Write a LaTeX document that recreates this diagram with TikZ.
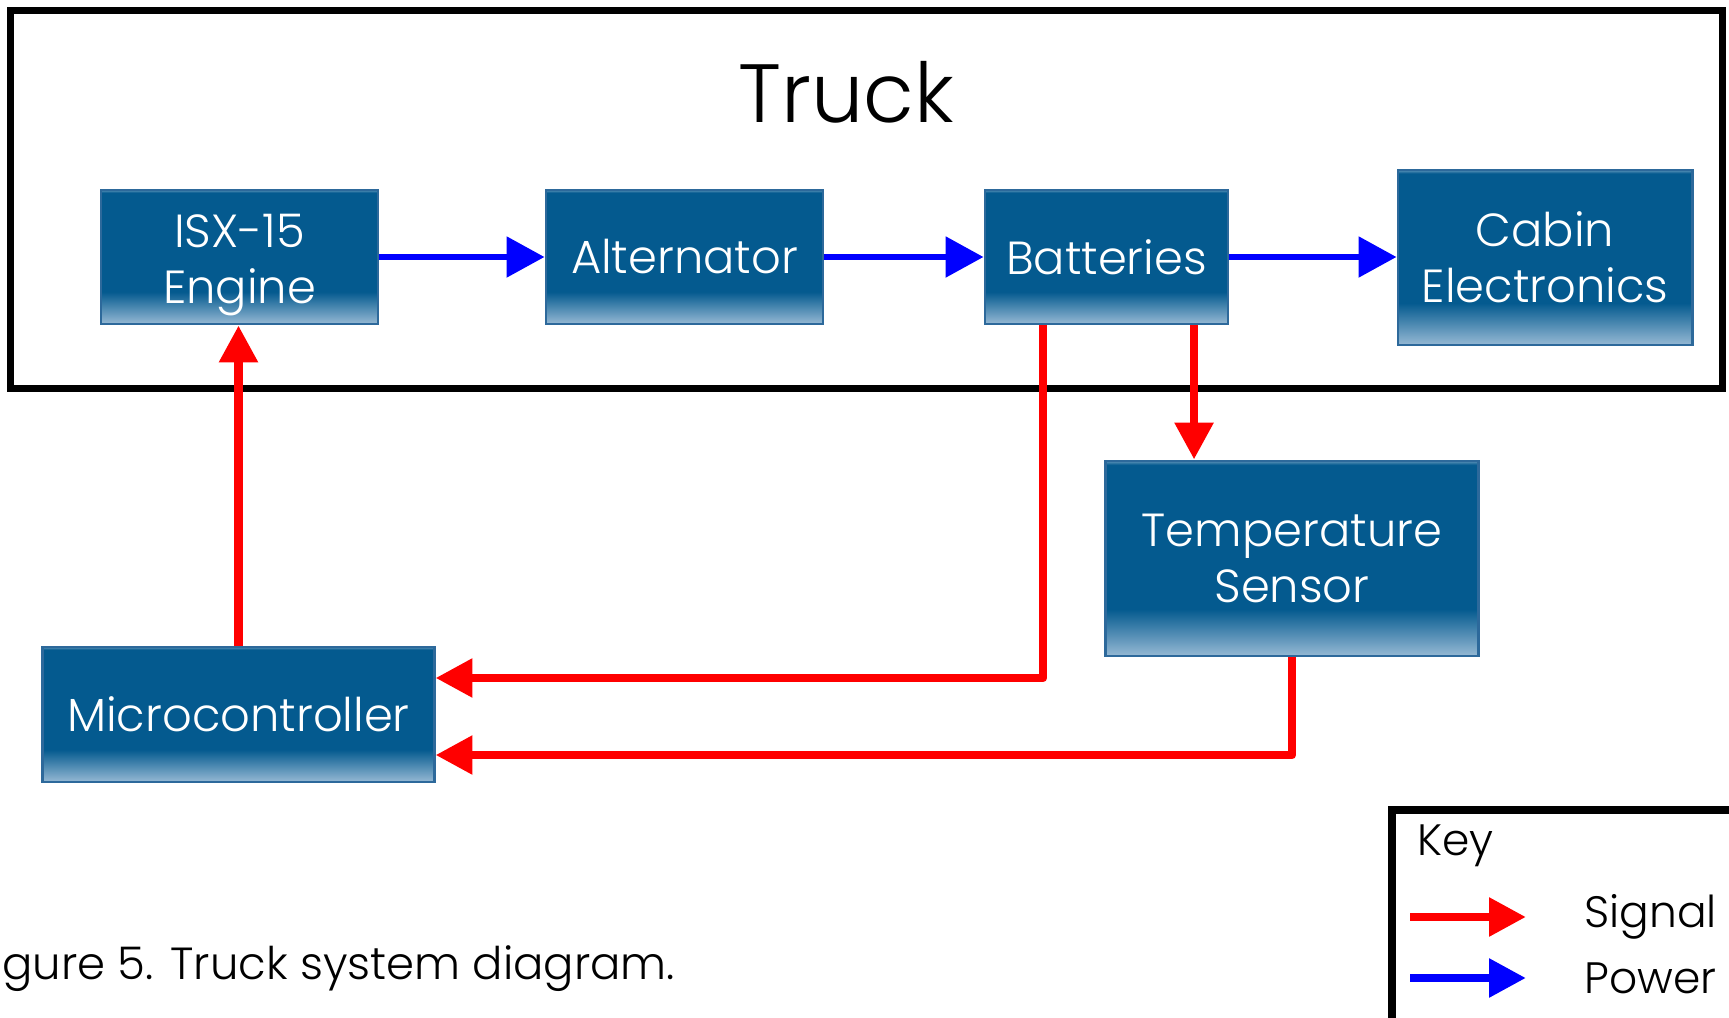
\documentclass[tikz,border=0pt]{standalone}
\usepackage{fontspec}
\setmainfont{Poppins}[UprightFont=* Light]
\usetikzlibrary{arrows.meta,positioning,calc}

\definecolor{blockblue}{RGB}{4,90,143}
\definecolor{blockglow}{RGB}{150,185,212}
\definecolor{blockedge}{RGB}{45,105,155}
\definecolor{sigred}{RGB}{255,0,0}
\definecolor{pwrblue}{RGB}{0,0,255}
\pgfdeclareverticalshading{blockshade}{100bp}{color(0bp)=(blockglow); color(25bp)=(blockglow); color(37bp)=(blockblue); color(74bp)=(blockblue); color(75bp)=(blockglow!60!blockblue); color(100bp)=(blockglow!60!blockblue)}

\tikzset{
  blockbox/.style={draw=blockedge, line width=0.8pt, shading=blockshade, text=white,
    align=center, inner sep=2pt, font=\fontsize{13.2}{15.8}\selectfont},
  frame/.style={draw=black, line width=2pt},
  pwrarrow/.style={draw=pwrblue, line width=1.8pt, -{Triangle[length=10.8pt,width=11.3pt]}},
  sigarrow/.style={draw=sigred, line width=2.5pt, line join=round, -{Triangle[length=10.5pt,width=10.5pt]}},
}

\begin{document}
\begin{tikzpicture}[x=0.01cm, y=-0.01cm]
  \useasboundingbox (0,0) rectangle (1729,1018);
  \clip (0,0) rectangle (1729,1018);

  % truck outline
  \node[frame, minimum width=17.11cm, minimum height=3.77cm, inner sep=0pt] (truck) at (866.5,199.5) {};
  \node[font=\fontsize{23.5}{28}\selectfont] (trucktitle) at (846,92) {Truck};

  % blocks
  \node[blockbox, minimum width=2.77cm, minimum height=1.34cm] (engine) at (239.5,257) {\rule{0pt}{14.2pt}ISX-15\\Engine};
  \node[blockbox, minimum width=2.77cm, minimum height=1.34cm] (alt) at (684.5,257) {Alternator};
  \node[blockbox, minimum width=2.43cm, minimum height=1.34cm] (batt) at (1106.5,257) {Batteries};
  \node[blockbox, minimum width=2.94cm, minimum height=1.75cm] (cabin) at (1545,257.5) {Cabin\\Electronics};
  \node[blockbox, minimum width=3.72cm, minimum height=1.95cm] (temp) at (1292,558.5) {Temperature\\Sensor};
  \node[blockbox, minimum width=3.91cm, minimum height=1.35cm] (micro) at (238.5,714.5) {Microcontroller};

  % power
  \draw[pwrarrow] (engine) -- (alt);
  \draw[pwrarrow] (alt) -- (batt);
  \draw[pwrarrow] (batt.east) -- (batt.east -| cabin.west);

  % signals
  \coordinate (battout) at ($(batt.south)+(-0.635cm,0)$);
  \coordinate (battdown) at ($(batt.south)+(0.875cm,0)$);
  \draw[sigarrow] (micro.north) -- (micro.north |- engine.south);
  \draw[sigarrow] (battout) |- ($(micro.east)+(0,0.365cm)$);
  \draw[sigarrow] (battdown) -- (battdown |- temp.north);
  \draw[sigarrow] (temp.south) |- ($(micro.east)+(0,-0.405cm)$);

  % key
  \draw[frame] (1392,810) rectangle (1800,1060);
  \node[anchor=west, font=\fontsize{12.5}{14}\selectfont] (keytitle) at (1405,846) {Key};
  \coordinate (sigA) at (1410,917);
  \coordinate (sigB) at (1526,917);
  \coordinate (pwrA) at (1410,978);
  \coordinate (pwrB) at (1526,978);
  \draw[sigarrow] (sigA) -- (sigB);
  \draw[sigarrow, draw=pwrblue] (pwrA) -- (pwrB);
  \node[anchor=west, font=\fontsize{12.5}{14}\selectfont] (siglabel) at (1572,917) {Signal};
  \node[anchor=west, font=\fontsize{12.5}{14}\selectfont] (pwrlabel) at (1572,978) {Power};

  % caption
  \node[anchor=west, font=\fontsize{12.8}{16}\selectfont] (caption) at (-10,969) {gure 5. Truck system diagram.};
\end{tikzpicture}
\end{document}
